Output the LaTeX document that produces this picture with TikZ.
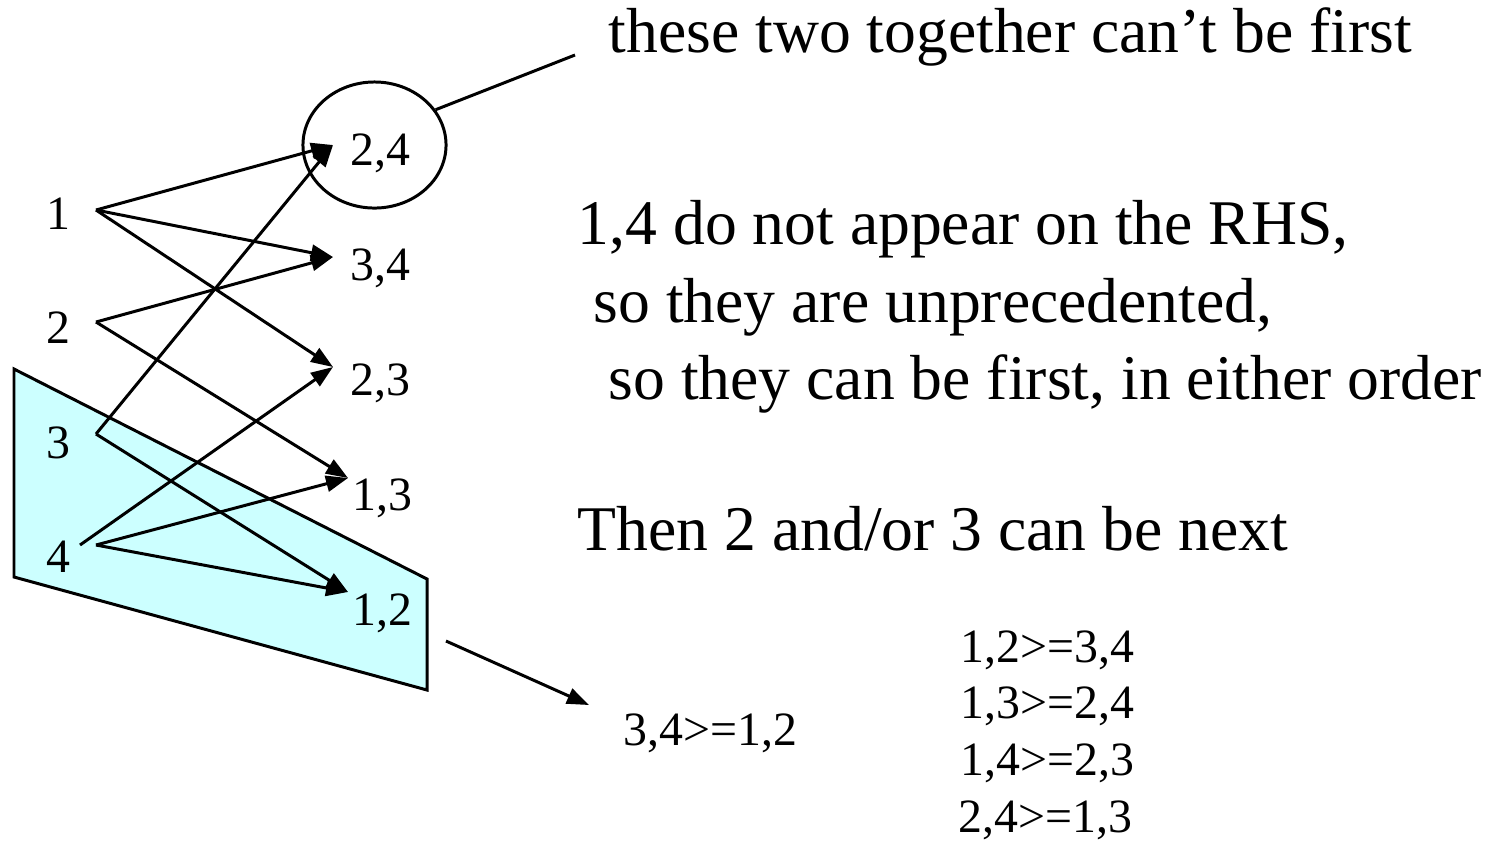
\documentclass[tikz,border=0pt]{standalone}
\usepackage{fontspec}
\setmainfont{Liberation Serif}
\usetikzlibrary{arrows.meta,shapes.geometric}
\tikzset{
  big/.style={font=\fontsize{18.1}{22}\selectfont, anchor=base west, inner sep=0pt},
  small/.style={font=\fontsize{13.6}{16}\selectfont, inner sep=0pt},
  lbl/.style={small, anchor=base},
  rlbl/.style={small, anchor=base west},
  edge/.style={line width=0.85pt},
  arr/.style={edge, -{Triangle[length=0.22cm,width=0.16cm]}},
}
\begin{document}
\begin{tikzpicture}[x=0.01cm,y=-0.01cm]
\useasboundingbox (0,0) rectangle (1497,841);
% shaded region
\draw[edge, fill={rgb,255:red,204;green,255;blue,255}] (14,369) -- (427,579) -- (427,690) -- (14,577) -- cycle;
% left labels
\node[lbl] (n1) at (58,229) {1};
\node[lbl] (n2) at (58,343) {2};
\node[lbl] (n3) at (58,458) {3};
\node[lbl] (n4) at (58,572) {4};
% right labels
\node[rlbl] (r24) at (350,165) {2,4};
\node[rlbl] (r34) at (350,280) {3,4};
\node[rlbl] (r23) at (350,395) {2,3};
\node[rlbl] (r13) at (352,510) {1,3};
\node[rlbl] (r12) at (352,625) {1,2};
% ellipse around 2,4
\node[draw, edge, ellipse, minimum width=1.43cm, minimum height=1.26cm] (e24) at (374.5,145) {};
% ports
\coordinate (p1) at (96,210);
\coordinate (p2) at (96,322);
\coordinate (p3) at (96,434);
\coordinate (p4) at (96,545);
\coordinate (p4b) at (80,545);
\coordinate (t24) at (333,145);
\coordinate (t34) at (333,257);
\coordinate (t23) at (333,367);
\coordinate (t13) at (348,478);
\coordinate (t12) at (348,592);
% arrows
\draw[arr] (p1) -- (t24);
\draw[arr] (p1) -- (t34);
\draw[arr] (p1) -- (t23);
\draw[arr] (p2) -- (t34);
\draw[arr] (p2) -- (t13);
\draw[arr] (p3) -- (t24);
\draw[arr] (p3) -- (t12);
\draw[arr] (p4b) -- (t23);
\draw[arr] (p4) -- (t13);
\draw[arr] (p4) -- (t12);
% texts
\node[big] (tt) at (608,52) {these two together can’t be first};
\coordinate (c1) at (575,55);
\draw[edge] (e24.30) -- (c1);
\node[big] (l1) at (577,244) {1,4 do not appear on the RHS,};
\node[big] (l2) at (593,322) {so they are unprecedented,};
\node[big] (l3) at (608,399) {so they can be first, in either order};
\node[big] (l4) at (577,550) {Then 2 and/or 3 can be next};
% conclusion
\node[rlbl] (q) at (623,745) {3,4>=1,2};
\coordinate (s1) at (446,641);
\coordinate (s2) at (589,705);
\draw[arr] (s1) -- (s2);
% list
\node[rlbl] (a1) at (960,662) {1,2>=3,4};
\node[rlbl] (a2) at (960,718) {1,3>=2,4};
\node[rlbl] (a3) at (960,775) {1,4>=2,3};
\node[rlbl] (a4) at (958,832) {2,4>=1,3};
\end{tikzpicture}
\end{document}
